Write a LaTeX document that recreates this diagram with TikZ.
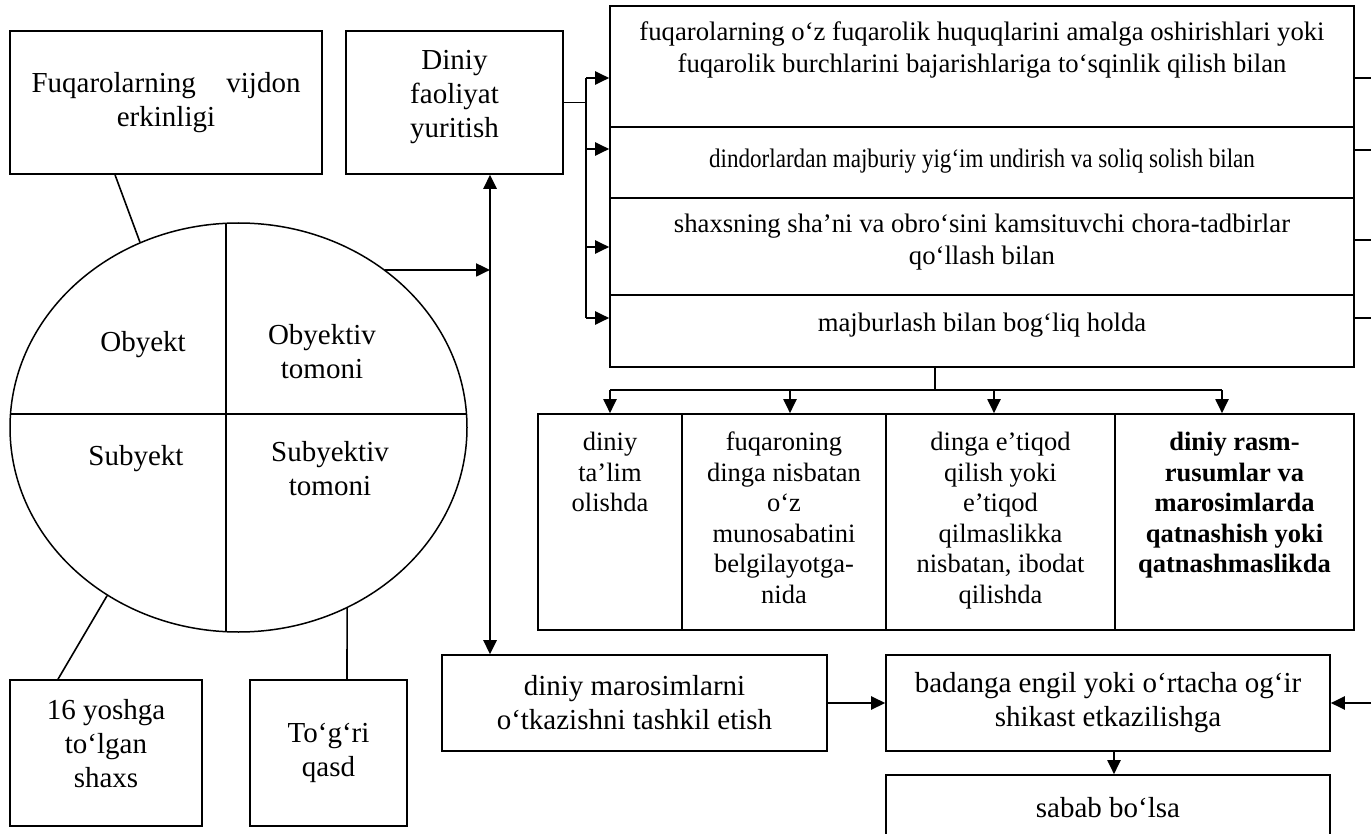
\documentclass[tikz,border=0pt]{standalone}
\usepackage{fontspec}
\usepackage{graphicx}
\setmainfont{Liberation Serif}
\usetikzlibrary{arrows.meta,shapes.geometric,calc}
\begin{document}
\begin{tikzpicture}[x=1pt,y=-1pt,
  box/.style={draw, line width=1.6pt, rectangle, inner sep=0pt},
  txt/.style={align=center, inner sep=0pt, font=\fontsize{29}{34}\selectfont},
  stxt/.style={align=center, inner sep=0pt, font=\fontsize{26.7}{32}\selectfont},
  ttxt/.style={align=center, inner sep=0pt, anchor=north, font=\fontsize{26.5}{30.5}\selectfont},
  ln/.style={line width=1.6pt},
  arr/.style={line width=2pt, -{Triangle[length=14pt,width=13pt]}},
  dbl/.style={line width=2.7pt, {Triangle[length=14pt,width=13pt]}-{Triangle[length=14pt,width=13pt]}},
]
\fill[white] (0,0) rectangle (1371,834);
\useasboundingbox (0,0) rectangle (1371,834);
\clip (0,0) rectangle (1371,834);

% top-left boxes
\node[box, txt, minimum width=312, minimum height=143] (A) at (166,102.5) {\hbox to 269pt{Fuqarolarning\hfill vijdon}\\erkinligi};
\node[box, minimum width=217, minimum height=143] (B) at (454.5,102.5) {};
\node[txt] (Bt) at (454.5,97.5) {Diniy\\faoliyat\\yuritish};

% stacked rows
\node[box, minimum width=744, minimum height=121] (r1) at (982,66.5) {};
\node[stxt] (r1t) at (982,50) {fuqarolarning o‘z fuqarolik huquqlarini amalga oshirishlari yoki\\fuqarolik burchlarini bajarishlariga to‘sqinlik qilish bilan};
\node[box, minimum width=744, minimum height=71] (r2) at (982,162.5) {};
\node[stxt] (r2t) at (982,161) {\scalebox{0.865}[1]{dindorlardan majburiy yig‘im undirish va soliq solish bilan}};
\node[box, minimum width=744, minimum height=97] (r3) at (982,246.5) {};
\node[stxt] (r3t) at (982,242) {shaxsning sha’ni va obro‘sini kamsituvchi chora-tadbirlar\\qo‘llash bilan};
\node[box, minimum width=744, minimum height=72] (r4) at (982,331) {};
\node[stxt] (r4t) at (982,325) {majburlash bilan bog‘liq holda};

% ellipse
\node[ellipse, draw, line width=1.5pt, minimum width=457, minimum height=409, inner sep=0pt] (E) at (238.5,427.5) {};
\begin{scope}
  \clip (E.center) ellipse [x radius=228.5pt, y radius=204.5pt];
  \draw[ln] (226,200) -- (226,660);
  \draw[ln] (0,414) -- (480,414);
\end{scope}
\node[txt] (o1) at (143,345) {Obyekt};
\node[txt] (o2) at (322,352) {Obyektiv\\tomoni};
\node[txt] (o3) at (136,459) {Subyekt};
\node[txt] (o4) at (330,469) {Subyektiv\\tomoni};

% bottom-left boxes
\node[box, minimum width=192, minimum height=146] (Y) at (106,753) {};
\node[txt] (Yt) at (106,744) {16 yoshga\\to‘lgan\\shaxs};
\node[box, txt, minimum width=157, minimum height=146] (Q) at (328.5,753) {To‘g‘ri\\qasd};

% bottom boxes
\node[box, txt, minimum width=385, minimum height=96] (M) at (634.5,703) {diniy marosimlarni\\o‘tkazishni tashkil etish};
\node[box, txt, minimum width=444, minimum height=96] (Bd) at (1108,703) {badanga engil yoki o‘rtacha og‘ir\\shikast etkazilishga};
\node[box, minimum width=444, minimum height=85] (S) at (1108,817.5) {};
\node[txt] (St) at (1108,808) {sabab bo‘lsa};

% table
\node[box, minimum width=144, minimum height=216] (T1) at (610,522) {};
\node[box, minimum width=204, minimum height=216] (T2) at (784,522) {};
\node[box, minimum width=229, minimum height=216] (T3) at (1000.5,522) {};
\node[box, minimum width=239, minimum height=216] (T4) at (1234.5,522) {};
\node[ttxt] (T1t) at (610,432) {diniy\\ta’lim\\olishda};
\node[ttxt] (T2t) at (784,432) {fuqaroning\\dinga nisbatan\\o‘z\\munosabatini\\belgilayotga-\\nida};
\node[ttxt] (T3t) at (1000.5,432) {dinga e’tiqod\\qilish yoki\\e’tiqod\\qilmaslikka\\nisbatan, ibodat\\qilishda};
\node[ttxt, font=\fontsize{26.5}{30.5}\selectfont\bfseries] (T4t) at (1234.5,432) {diniy rasm-\\rusumlar va\\marosimlarda\\qatnashish yoki\\qatnashmaslikda};

% coordinates
\coordinate (vx) at (490,0);
\coordinate (bx) at (586,0);
\coordinate (k1) at (586,78);
\coordinate (k2) at (586,149);
\coordinate (k3) at (586,247);
\coordinate (k4) at (586,318);
\coordinate (s1) at (1371,78);
\coordinate (s2) at (1371,150);
\coordinate (s3) at (1371,240);
\coordinate (s4) at (1371,318);
\coordinate (c1) at (115,0);
\coordinate (c2) at (58,0);
\coordinate (c3) at (347,0);
\coordinate (d0) at (935,390);
\coordinate (a1) at (610,390);
\coordinate (a2) at (790,390);
\coordinate (a3) at (994,390);
\coordinate (a4) at (1222,390);
\coordinate (rin) at (1371,703);

% connectors
\draw[ln] (A.south -| c1) -- (E.118);
\draw[ln] (E.232.6) -- (Y.north -| c2);
\draw[ln] (E.301) -- (Q.north -| c3);
\draw[arr] (E.47) -- (E.47 -| vx);
\draw[dbl] (B.south -| vx) -- (M.north -| vx);

\draw[ln] (B.east) -- (B.east -| bx);
\draw[ln] (k1) -- (k4);
\draw[arr] (k1) -- (r1.west |- k1);
\draw[arr] (k2) -- (r2.west |- k2);
\draw[arr] (k3) -- (r3.west |- k3);
\draw[arr] (k4) -- (r4.west |- k4);

\draw[ln] (r1.east |- s1) -- (s1);
\draw[ln] (r2.east |- s2) -- (s2);
\draw[ln] (r3.east |- s3) -- (s3);
\draw[ln] (r4.east |- s4) -- (s4);

\draw[ln] (r4.south -| d0) -- (d0);
\draw[ln] (a1) -- (a4);
\draw[arr] (a1) -- (T1.north -| a1);
\draw[arr] (a2) -- (T2.north -| a2);
\draw[arr] (a3) -- (T3.north -| a3);
\draw[arr] (a4) -- (T4.north -| a4);

\draw[arr, line width=2.5pt] (M.east) -- (Bd.west);
\draw[arr, line width=2.5pt] (rin) -- (Bd.east);
\draw[arr] ($(Bd.south)+(6,0)$) -- ($(S.north)+(6,0)$);
\end{tikzpicture}
\end{document}
